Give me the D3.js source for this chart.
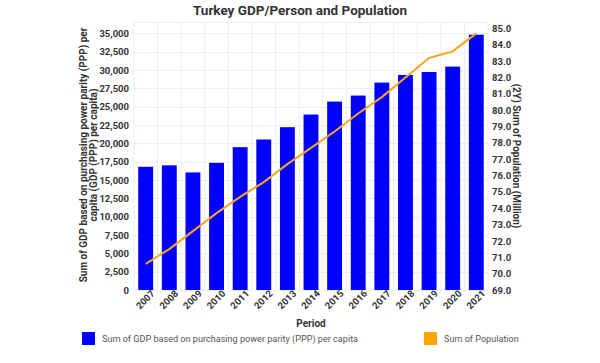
<!DOCTYPE html>
<html>
<head>
<meta charset="utf-8">
<script src="https://cdn.jsdelivr.net/npm/d3@7"></script>
<style>
  body { margin: 0; background: #fff; }
  text { font-family: Roboto, "Liberation Sans", Arial, sans-serif; }
</style>
</head>
<body>
<div id="chart"></div>
<script>
// datos
const years = ["2007","2008","2009","2010","2011","2012","2013","2014","2015","2016","2017","2018","2019","2020","2021"];
const gdpPerCapita = [16800, 17000, 16030, 17340, 19470, 20520, 22200, 23920, 25690, 26510, 28280, 29320, 29720, 30460, 34810];
const population = [70.6, 71.5, 72.6, 73.7, 74.7, 75.6, 76.7, 77.7, 78.7, 79.8, 80.8, 82.0, 83.2, 83.6, 84.7];
const leftTicks = [0, 2500, 5000, 7500, 10000, 12500, 15000, 17500, 20000, 22500, 25000, 27500, 30000, 32500, 35000];
const rightTicks = [69, 70, 71, 72, 73, 74, 75, 76, 77, 78, 79, 80, 81, 82, 83, 84, 85];

const width = 600, height = 363;
const plot = { left: 134, right: 488, top: 22, bottom: 290 };

const svg = d3.select("#chart").append("svg")
  .attr("width", width)
  .attr("height", height);

const x = d3.scaleBand().domain(years).range([plot.left, plot.right]).paddingInner(0.37).paddingOuter(0.18);
const yL = d3.scaleLinear().domain([0, 35000]).range([plot.bottom, 33.3]);
const yR = d3.scaleLinear().domain([69, 85]).range([plot.bottom, 28.5]);

// rejilla
const grid = svg.append("g").attr("stroke", "#eeeeee").attr("stroke-width", 1);
leftTicks.concat([yL.invert(plot.top)]).forEach(t => {
  grid.append("line").attr("x1", plot.left).attr("x2", plot.right)
    .attr("y1", Math.round(yL(t)) + 0.5).attr("y2", Math.round(yL(t)) + 0.5);
});
const step = x.step();
d3.range(years.length + 1).forEach(i => {
  const gx = x(years[0]) - step * x.paddingInner() / 2 + i * step;
  grid.append("line").attr("x1", gx).attr("x2", gx).attr("y1", plot.top).attr("y2", plot.bottom);
});

// barras
svg.append("g").selectAll("rect")
  .data(years)
  .join("rect")
  .attr("x", d => x(d))
  .attr("width", x.bandwidth())
  .attr("y", (d, i) => yL(gdpPerCapita[i]))
  .attr("height", (d, i) => plot.bottom - yL(gdpPerCapita[i]))
  .attr("fill", "#0000ff");

// línea de población
const line = d3.line()
  .x((d, i) => x(years[i]) + x.bandwidth() / 2)
  .y(d => yR(d));
svg.append("path")
  .datum(population)
  .attr("d", line)
  .attr("fill", "none")
  .attr("stroke", "#f5a623")
  .attr("stroke-width", 2);

// ejes
const axisL = svg.append("g")
  .attr("transform", `translate(${plot.left - 5},0)`)
  .call(d3.axisLeft(yL).tickValues(leftTicks).tickSize(0).tickPadding(0).tickFormat(d3.format(",")));
const axisR = svg.append("g")
  .attr("transform", `translate(${plot.right + 4},0)`)
  .call(d3.axisRight(yR).tickValues(rightTicks).tickSize(0).tickPadding(0).tickFormat(d3.format(".1f")));
const axisB = svg.append("g")
  .attr("transform", `translate(0,${plot.bottom})`)
  .call(d3.axisBottom(x).tickSize(0).tickPadding(6));

[axisL, axisR, axisB].forEach(a => {
  a.select(".domain").remove();
  a.selectAll("text")
    .attr("font-family", "Roboto, sans-serif")
    .attr("font-size", 9.5)
    .attr("font-weight", "bold")
    .attr("fill", "#333");
});
axisB.selectAll("text")
  .attr("text-anchor", "end")
  .attr("dx", "0.4em")
  .attr("dy", "0.4em")
  .attr("transform", "rotate(-45)");

// títulos
svg.append("text")
  .attr("x", 300).attr("y", 15)
  .attr("text-anchor", "middle")
  .attr("font-size", 13.5).attr("font-weight", "bold").attr("fill", "#333")
  .text("Turkey GDP/Person and Population");

const titleL = svg.append("text")
  .attr("transform", "translate(87,155) rotate(-90)")
  .attr("text-anchor", "middle")
  .attr("font-size", 10).attr("font-weight", "bold").attr("fill", "#333");
titleL.append("tspan").attr("x", 0).attr("dy", 0).text("Sum of GDP based on purchasing power parity (PPP) per");
titleL.append("tspan").attr("x", 0).attr("dy", 10).text("capita (GDP (PPP) per capita)");

svg.append("text")
  .attr("transform", "translate(513,156) rotate(90)")
  .attr("text-anchor", "middle")
  .attr("font-size", 10).attr("font-weight", "bold").attr("fill", "#333")
  .text("(2Y) Sum of Population (Million)");

svg.append("text")
  .attr("x", (plot.left + plot.right) / 2).attr("y", 327)
  .attr("text-anchor", "middle")
  .attr("font-size", 10).attr("font-weight", "bold").attr("fill", "#333")
  .text("Period");

// leyenda
const legendItems = [
  { text: "Sum of GDP based on purchasing power parity (PPP) per capita", color: "#0000ff", x: 82 },
  { text: "Sum of Population", color: "#ffa500", x: 424 }
];
legendItems.forEach(item => {
  svg.append("rect").attr("x", item.x).attr("y", 332).attr("width", 13).attr("height", 13).attr("fill", item.color);
  svg.append("text").attr("x", item.x + 20).attr("y", 342)
    .attr("font-family", "Roboto, sans-serif")
    .attr("font-size", 9.1).attr("fill", "#555")
    .text(item.text);
});
</script>
</body>
</html>
